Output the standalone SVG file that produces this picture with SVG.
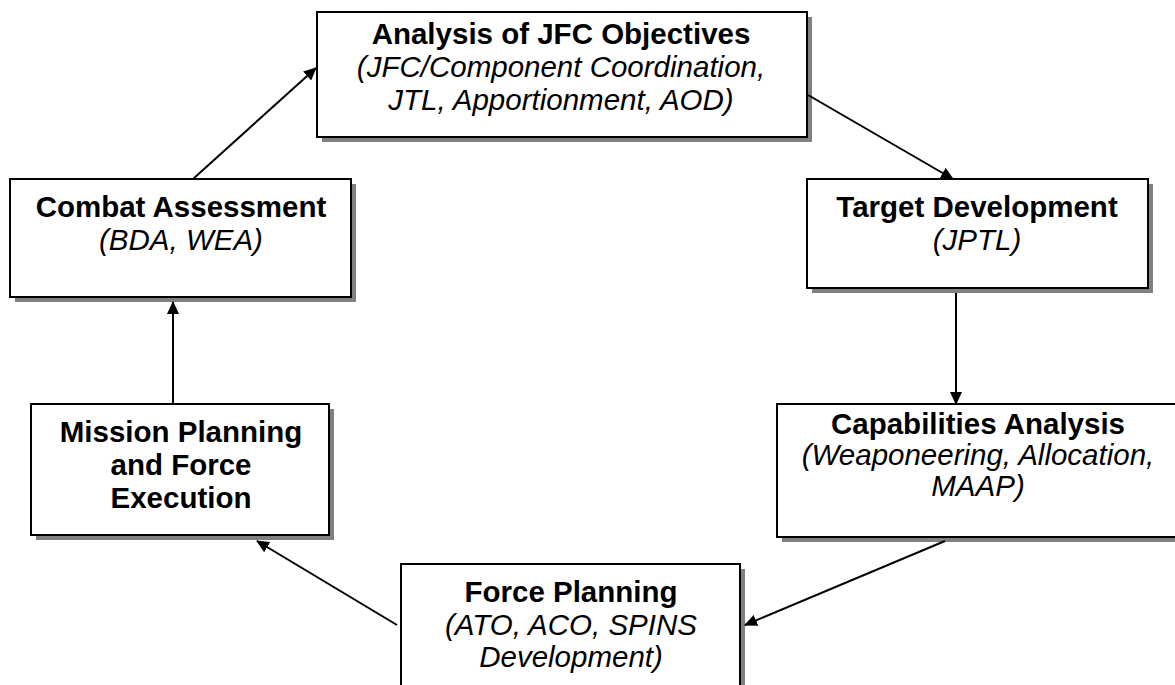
<svg xmlns="http://www.w3.org/2000/svg" width="1175" height="685" viewBox="0 0 1175 685">
<defs>
<style>
.shadow{fill:#808080;stroke:none}
.box{fill:#fff;stroke:#000;stroke-width:2}
.t{font-family:"Liberation Sans",Arial,sans-serif;font-size:29.5px;fill:#000;text-anchor:middle}
.b{font-weight:bold}
.i{font-style:italic}
.conn{stroke:#000;stroke-width:2;fill:none;marker-end:url(#ah)}
</style>
<marker id="ah" viewBox="0 0 13 12" refX="12" refY="6" markerWidth="13" markerHeight="12" markerUnits="userSpaceOnUse" orient="auto">
<path d="M0,0 L13,6 L0,12 Z" fill="#000"/>
</marker>
</defs>
<rect width="1175" height="685" fill="#fff"/>

<g id="analysis">
<rect class="shadow" x="322" y="17" width="490" height="125"/>
<rect class="box" x="317" y="12" width="490" height="125"/>
<text class="t b" x="561" y="44">Analysis of JFC Objectives</text>
<text class="t i" x="561" y="77">(JFC/Component Coordination,</text>
<text class="t i" x="561" y="110">JTL, Apportionment, AOD)</text>
</g>

<g id="target">
<rect class="shadow" x="812" y="184" width="341" height="109"/>
<rect class="box" x="807" y="179" width="341" height="109"/>
<text class="t b" x="977" y="217">Target Development</text>
<text class="t i" x="977" y="250">(JPTL)</text>
</g>

<g id="capabilities">
<rect class="shadow" x="782" y="409" width="403" height="133"/>
<rect class="box" x="777" y="404" width="403" height="133"/>
<text class="t b" x="978" y="434">Capabilities Analysis</text>
<text class="t i" x="978" y="465">(Weaponeering, Allocation,</text>
<text class="t i" x="978" y="496">MAAP)</text>
</g>

<g id="force">
<rect class="shadow" x="406" y="569" width="339" height="130"/>
<rect class="box" x="401" y="564" width="339" height="130"/>
<text class="t b" x="571" y="602">Force Planning</text>
<text class="t i" x="571" y="635">(ATO, ACO, SPINS</text>
<text class="t i" x="571" y="667">Development)</text>
</g>

<g id="mission">
<rect class="shadow" x="36" y="409" width="298" height="131"/>
<rect class="box" x="31" y="404" width="298" height="131"/>
<text class="t b" x="181" y="442">Mission Planning</text>
<text class="t b" x="181" y="475">and Force</text>
<text class="t b" x="181" y="508">Execution</text>
</g>

<g id="combat">
<rect class="shadow" x="15" y="184" width="341" height="118"/>
<rect class="box" x="10" y="179" width="341" height="118"/>
<text class="t b" x="181" y="217">Combat Assessment</text>
<text class="t i" x="181" y="250">(BDA, WEA)</text>
</g>

<g id="connectors">
<line class="conn" x1="193" y1="179" x2="316" y2="68"/>
<line class="conn" x1="808" y1="95" x2="953" y2="179"/>
<line class="conn" x1="956" y1="293" x2="956" y2="404"/>
<line class="conn" x1="945" y1="541" x2="745" y2="625"/>
<line class="conn" x1="397" y1="625" x2="257" y2="541"/>
<line class="conn" x1="173" y1="404" x2="173" y2="302"/>
</g>
</svg>
